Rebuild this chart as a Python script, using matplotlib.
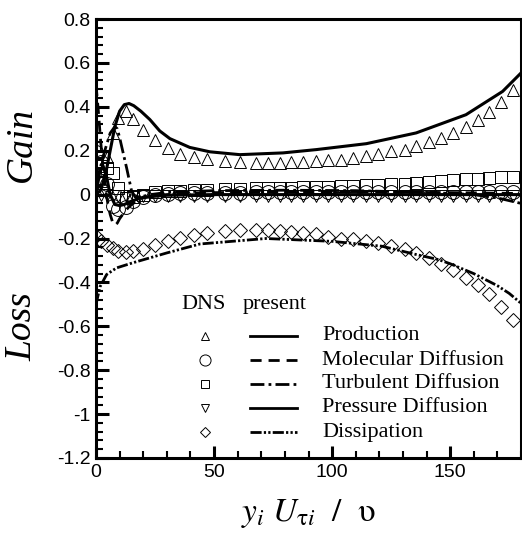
import matplotlib
matplotlib.use("Agg")
import matplotlib.pyplot as plt
from matplotlib.ticker import MultipleLocator, AutoMinorLocator, FixedLocator, FixedFormatter
from matplotlib.lines import Line2D

# --- DNS data (markers) ---
x_dns = [0, 2, 4.5, 7, 9.5, 12.7, 15.8, 20, 25, 30.5, 35.6, 41.4, 47.2, 54.5, 60.9,
         67.9, 72.9, 77.8, 82.7, 87.7, 93.3, 98.2, 103.9, 108.8, 114.5, 119.4, 125.0,
         130.7, 135.6, 141.2, 146.2, 151.1, 156.7, 161.7, 166.6, 171.5, 176.4]
prod_dns = [0.02, 0.06, 0.17, 0.28, 0.35, 0.38, 0.345, 0.293, 0.248, 0.213, 0.187, 0.172,
            0.162, 0.155, 0.149, 0.144, 0.144, 0.144, 0.147, 0.148, 0.152, 0.157, 0.159,
            0.167, 0.175, 0.185, 0.197, 0.205, 0.22, 0.238, 0.258, 0.281, 0.307, 0.339,
            0.375, 0.42, 0.475]
mol_dns = [0.195, 0.15, 0.05, -0.05, -0.065, -0.055, -0.03, -0.012, -0.002, 0.003, 0.006,
           0.008, 0.008, 0.009, 0.009, 0.01, 0.01, 0.01, 0.01, 0.01, 0.01, 0.01, 0.01,
           0.01, 0.01, 0.01, 0.01, 0.01, 0.01, 0.01, 0.01, 0.01, 0.01, 0.01, 0.01,
           0.01, 0.01]
turb_dns = [0.145, 0.13, 0.12, 0.1, 0.03, -0.015, -0.01, 0.0, 0.01, 0.015, 0.018, 0.02,
            0.022, 0.025, 0.027, 0.028, 0.03, 0.031, 0.032, 0.034, 0.035, 0.036, 0.038,
            0.04, 0.042, 0.044, 0.047, 0.05, 0.053, 0.057, 0.061, 0.065, 0.069, 0.073,
            0.076, 0.079, 0.08]
pres_dns = [0.02, 0.0, -0.003, -0.005, -0.006, -0.006, -0.007, -0.007, -0.008, -0.008,
            -0.008, -0.008, -0.008, -0.008, -0.008, -0.008, -0.008, -0.008, -0.008,
            -0.008, -0.008, -0.008, -0.008, -0.008, -0.008, -0.008, -0.008, -0.008,
            -0.008, -0.008, -0.008, -0.008, -0.008, -0.008, -0.008, -0.008, -0.008]
diss_dns = [-0.19, -0.21, -0.228, -0.245, -0.255, -0.263, -0.255, -0.25, -0.228, -0.213,
            -0.197, -0.182, -0.175, -0.167, -0.16, -0.16, -0.162, -0.167, -0.172, -0.175,
            -0.18, -0.193, -0.2, -0.2, -0.21, -0.22, -0.235, -0.25, -0.265, -0.289,
            -0.315, -0.345, -0.38, -0.41, -0.455, -0.51, -0.57]

# --- present model (lines) ---
x_prod = [0, 2, 4, 6, 8, 10, 12, 14, 16, 19, 22.8, 27, 31.3, 39.7, 48.2, 60.9, 79.2,
          93.3, 114.5, 135.6, 156.7, 172.2, 180]
prod = [0.0, 0.02, 0.09, 0.2, 0.31, 0.38, 0.41, 0.415, 0.405, 0.38, 0.342, 0.29, 0.255,
        0.215, 0.195, 0.182, 0.19, 0.205, 0.232, 0.281, 0.364, 0.47, 0.554]

x_mol = [0, 1, 2, 3, 4, 5, 6, 7, 8, 9, 10, 12, 14, 17, 20, 25, 30, 40, 80, 120, 160, 180]
mol = [0.5, 0.38, 0.24, 0.12, 0.03, -0.04, -0.09, -0.125, -0.14, -0.13, -0.11, -0.08,
       -0.055, -0.03, -0.015, -0.005, 0.0, 0.008, 0.012, 0.012, 0.008, 0.005]

x_turb = [0, 2, 4, 6, 8, 9, 10, 11.5, 13, 14, 15, 16.5, 19, 23, 30, 50, 80, 110, 140,
          160, 170, 180]
turb = [0.05, 0.13, 0.21, 0.28, 0.31, 0.3, 0.26, 0.19, 0.12, 0.07, 0.02, -0.01, -0.01,
        0.0, 0.01, 0.018, 0.02, 0.018, 0.01, 0.0, -0.015, -0.04]

x_pres = [0, 1.5, 3, 4.5, 6, 8, 10, 12, 15, 20, 30, 50, 180]
pres = [0.0, 0.1, 0.13, 0.08, 0.0, -0.045, -0.05, -0.045, -0.03, -0.012, -0.003, 0.0, 0.0]

x_diss = [0, 1.7, 4.5, 8.7, 15.8, 29.9, 44, 72, 100, 121, 135.6, 145, 150, 160, 170,
          175, 180]
diss = [-0.5, -0.42, -0.364, -0.334, -0.31, -0.266, -0.225, -0.2, -0.213, -0.235,
        -0.273, -0.296, -0.315, -0.36, -0.415, -0.45, -0.495]

labels = ["Production", "Molecular Diffusion", "Turbulent Diffusion",
          "Pressure Diffusion", "Dissipation"]
y_ticks = [0.8, 0.6, 0.4, 0.2, 0, -0.2, -0.4, -0.6, -0.8, -1, -1.2]
y_ticklabels = ["0.8", "0.6", "0.4", "0.2", "0", "-0.2", "-0.4", "-0.6", "-0.8", "-1", "-1.2"]

plt.rcParams['mathtext.fontset'] = 'stix'

fig = plt.figure(figsize=(5.22, 5.46), dpi=100)
ax = fig.add_axes([96 / 522, 1 - 458 / 546, 425 / 522, 439 / 546])

mk = dict(linestyle='none', markerfacecolor='none', markeredgecolor='black',
          markeredgewidth=0.7)
ax.plot(x_dns, prod_dns, marker='^', markersize=9, **mk)
ax.plot(x_dns, mol_dns, marker='o', markersize=10, **mk)
ax.plot(x_dns, turb_dns, marker='s', markersize=8, **mk)
ax.plot(x_dns, pres_dns, marker='v', markersize=8, **mk)
ax.plot(x_dns, diss_dns, marker='D', markersize=7, **mk)

ls_prod = '-'
ls_mol = (0, (4, 2.5))
ls_turb = (0, (5, 1.5, 1, 1.5))
ls_pres = '-'
ls_diss = (0, (4, 0.8, 0.8, 0.8, 0.8, 0.8))
ax.plot(x_prod, prod, color='black', lw=2.2, linestyle=ls_prod)
ax.plot(x_mol, mol, color='black', lw=2.0, linestyle=ls_mol)
ax.plot(x_turb, turb, color='black', lw=2.0, linestyle=ls_turb)
ax.plot(x_pres, pres, color='black', lw=2.2, linestyle=ls_pres)
ax.plot(x_diss, diss, color='black', lw=2.0, linestyle=ls_diss)

ax.set_xlim(0, 180)
ax.set_ylim(-1.2, 0.8)
ax.xaxis.set_major_locator(MultipleLocator(50))
ax.xaxis.set_minor_locator(MultipleLocator(10))
ax.yaxis.set_major_locator(FixedLocator(y_ticks))
ax.yaxis.set_major_formatter(FixedFormatter(y_ticklabels))
ax.yaxis.set_minor_locator(AutoMinorLocator(5))
ax.tick_params(which='both', direction='in', top=False, right=False, width=1.5)
ax.tick_params(which='major', length=9, width=2.2, labelsize=14, pad=4)
ax.tick_params(which='minor', length=5)
for lab in ax.get_xticklabels() + ax.get_yticklabels():
    lab.set_fontfamily('Liberation Sans')
for s in ax.spines.values():
    s.set_linewidth(2.2)

ax.set_xlabel(r'$y_i\ U_{\mathrm{\tau} i}\ \ /\ \ \mathrm{\upsilon}$', fontsize=24, labelpad=12)
fig.text(22 / 522, 1 - 145 / 546, 'Gain', rotation=90, ha='center', va='center',
         fontsize=27, family='Liberation Serif', style='italic')
fig.text(22 / 522, 1 - 327 / 546, 'Loss', rotation=90, ha='center', va='center',
         fontsize=27, family='Liberation Serif', style='italic')

# legend drawn by hand
serif = dict(family='Liberation Serif', fontsize=16, va='center', transform=ax.transAxes)
ax.text(0.252, 0.349, 'DNS', ha='center', **serif)
ax.text(0.421, 0.349, 'present', ha='center', **serif)
leg_markers = ['^', 'o', 's', 'v', 'D']
leg_msize = [6, 8, 6, 6, 5]
leg_styles = [ls_prod, ls_mol, ls_turb, ls_pres, ls_diss]
row_y = [0.278, 0.223, 0.169, 0.114, 0.059]
for m, ms, ls, lab, yy in zip(leg_markers, leg_msize, leg_styles, labels, row_y):
    ax.add_line(Line2D([0.256], [yy], marker=m, markersize=ms, transform=ax.transAxes,
                       **mk))
    ax.add_line(Line2D([0.362, 0.473], [yy], color='black', lw=2.0, linestyle=ls,
                       transform=ax.transAxes))
    ax.text(0.532, yy, lab, ha='left', **serif)

fig.savefig('out.png', dpi=100)
